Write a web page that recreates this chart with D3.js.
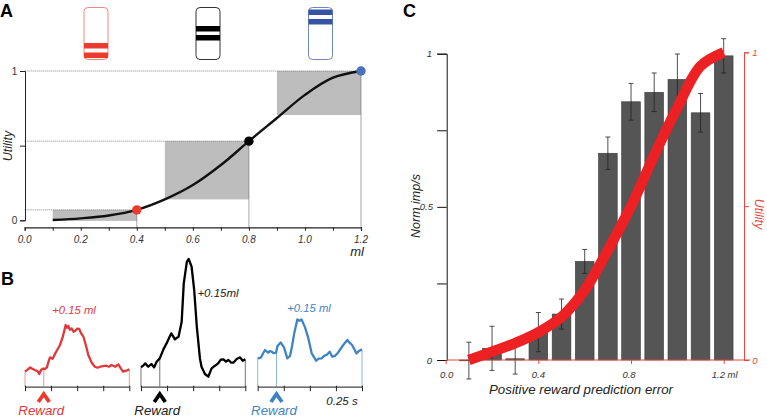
<!DOCTYPE html>
<html><head><meta charset="utf-8">
<script src="https://cdn.jsdelivr.net/npm/d3@7"></script>
<style>
html,body{margin:0;padding:0;background:#fff}
svg{display:block}
text{font-family:"Liberation Sans",Arial,sans-serif}
.it{font-style:italic}
</style></head><body>
<svg id="c" width="767" height="419"></svg>
<script>
// Panel A
const ml = [0.1,0.2,0.3,0.4,0.5,0.6,0.7,0.8,0.9,1.0,1.1,1.2];
const utilityA = [0.002,0.013,0.032,0.07,0.14,0.236,0.37,0.53,0.685,0.84,0.955,1];
const stimuli = [{m:0.4,u:0.07,c:"#ee3a2e"},{m:0.8,u:0.53,c:"#000000"},{m:1.2,u:1,c:"#4a72bd"}];
const shaded = [[0.1,0.4,-0.004,0.07],[0.5,0.8,0.14,0.53],[0.9,1.2,0.705,1]];
const xTicksA = [0,0.2,0.4,0.6,0.8,1.0,1.2];
// Panel B
const tRed = [0,.025,.05,.07,.095,.12,.137,.155,.176,.19,.21,.225,.24,.265,.29,.31,.335,.36,.39,.403,.415,.43,.447,.465,.48,.50,.52,.54,.56,.585,.607,.64,.67,.695,.72,.75,.78,.805,.83,.865,.895,.92,.94,.97,1];
const vRed = [15,17,19.3,18,16.7,15.5,12.7,17,18.3,17.5,19.3,25,29.3,28,33.3,37,41.7,49,61.7,59,60.7,57,58.3,55,55.7,58,57.7,53,50,41,31.7,24,20,19,20,20.5,21,20,21.7,20,22.3,18,15,16,17.3];
const tBlack = [0,.02,.04,.07,.10,.125,.15,.18,.215,.245,.27,.29,.31,.325,.345,.36,.39,.41,.44,.457,.485,.51,.535,.565,.58,.613,.645,.677,.71,.74,.765,.79,.815,.837,.865,.885,.92,.95,.975,1];
const vBlack = [19.3,21,23.3,20,22.7,19.3,25,28.3,37.3,43.3,49,53.3,50,47.3,49,50,65,103.3,125,127.7,120,96.7,60,28.3,20,12.7,10,18.3,21,23.3,27,27.3,25,26.7,24,24,28,29.3,26,27.3];
const tBlue = [0,.03,.05,.07,.10,.115,.134,.155,.176,.19,.22,.252,.284,.31,.33,.35,.38,.40,.42,.454,.486,.518,.56,.585,.613,.64,.66,.69,.715,.74,.77,.82,.86,.88,.905,.947,.975,1];
const vBlue = [28.3,29,33,36.7,34,35.5,35,33.5,34,40.7,44.3,39.3,28.3,30.7,41,53.3,67.3,66,67.3,59.3,48.3,33.3,26,28,28.3,31,31.7,35,30,30.7,34,41.7,46.7,44,41.7,33.3,36,37.3];
const rewardTime = 0.18;
// Panel C
const binsC = [0.1,0.2,0.3,0.4,0.5,0.6,0.7,0.8,0.9,1.0,1.1,1.2];
const normImp = [-0.002,0.038,0.004,0.091,0.15,0.322,0.675,0.843,0.874,0.916,0.807,0.993];
const errImp = [0.06,0.072,0.05,0.064,0.049,0.039,0.053,0.06,0.063,0.083,0.063,0.056];
const utilityC = [0,0.027,0.055,0.09,0.14,0.227,0.357,0.5,0.665,0.82,0.955,1];
const xTicksC = [0,0.4,0.8,1.2];

const svg = d3.select("#c");
const lab = (x,y,t,o={})=>svg.append("text").attr("x",x).attr("y",y).text(t)
  .attr("class",o.it===false?null:"it").attr("font-size",o.s||9.5).attr("fill",o.c||"#333")
  .attr("text-anchor",o.a||"middle").attr("font-weight",o.b?"bold":null)
  .attr("transform",o.r?`rotate(${o.r} ${x} ${y})`:null);

lab(0,17,"A",{it:false,s:18,b:true,c:"#000",a:"start"});
lab(1,285,"B",{it:false,s:18,b:true,c:"#000",a:"start"});
lab(403,17,"C",{it:false,s:18,b:true,c:"#000",a:"start"});

// Reward-cue icons
[[84,"#ee3a2e","#ea8a80",[43,52.5]],[196,"#000","#333",[26,35]],[308.5,"#3554a4","#6f86bd",[9.5,19]]].forEach(([x,c,e,b])=>{
  svg.append("rect").attr("x",x).attr("y",7.5).attr("width",24).attr("height",52).attr("rx",4)
    .attr("fill","#fff").attr("stroke",e).attr("stroke-width",1);
  b.forEach(y=>svg.append("rect").attr("x",x).attr("y",y).attr("width",24).attr("height",5.5).attr("fill",c));
});

// ---- Panel A
const xA = d3.scaleLinear().domain([0,1.2]).range([24.7,361]);
const yA = d3.scaleLinear().domain([0,1]).range([220.3,71]);
const gA = svg.append("g");
shaded.forEach(s=>gA.append("rect").attr("x",xA(s[0])).attr("width",xA(s[1])-xA(s[0]))
  .attr("y",yA(s[3])).attr("height",yA(s[2])-yA(s[3])).attr("fill","#bdbdbd"));
stimuli.forEach(s=>{
  gA.append("line").attr("x1",xA(0)).attr("x2",xA(s.m)).attr("y1",yA(s.u)).attr("y2",yA(s.u))
    .attr("stroke","#555").attr("stroke-width",.7).attr("stroke-dasharray","1 1");
  gA.append("line").attr("x1",xA(s.m)).attr("x2",xA(s.m)).attr("y1",yA(s.u)).attr("y2",227.3)
    .attr("stroke","#666").attr("stroke-width",.6);
});
gA.append("path").datum(ml.map((m,i)=>[m,utilityA[i]]))
  .attr("d",d3.line().x(d=>xA(d[0])).y(d=>yA(d[1])).curve(d3.curveCatmullRom))
  .attr("fill","none").attr("stroke","#111").attr("stroke-width",2.4);
stimuli.forEach(s=>gA.append("circle").attr("cx",xA(s.m)).attr("cy",yA(s.u)).attr("r",4.7).attr("fill",s.c));

const axA = svg.append("g").attr("transform","translate(0,227.3)")
  .call(d3.axisBottom(xA).tickValues(d3.range(0,13).map(d=>d/10)).tickSize(3.5).tickFormat(""));
axA.selectAll("path,line").attr("stroke","#222").attr("stroke-width",1);
axA.select(".domain").attr("stroke-width",1.2);
xTicksA.forEach(t=>lab(xA(t),243,t.toFixed(1),{s:10}));
const ayA = svg.append("g").attr("transform","translate(25,0)")
  .call(d3.axisLeft(yA).tickValues([0,0.5,1]).tickSize(5).tickFormat(""));
ayA.selectAll("path,line").attr("stroke","#222").attr("stroke-width",1);
lab(14.5,74.5,"1",{it:false,s:10}); lab(14.5,224,"0",{it:false,s:10});
lab(12,146,"Utility",{s:12.5,r:-90,c:"#222"});
lab(357,256,"ml",{s:13,c:"#222"});

// ---- Panel B
const yB = d3.scaleLinear().domain([0,100]).range([386.7,286.7]);
const traces = [
 {x0:25,t:tRed,v:vRed,c:"#e2383a",e:"#eb9a94"},
 {x0:141,t:tBlack,v:vBlack,c:"#000",e:"#777"},
 {x0:257.7,t:tBlue,v:vBlue,c:"#3e84c4",e:"#8cb6da"}];
traces.forEach(tr=>{
  const x = d3.scaleLinear().domain([0,1]).range([tr.x0,tr.x0+104.3]);
  [0,rewardTime,1].forEach(t=>{
    const v = d3.scaleLinear().domain(tr.t).range(tr.v)(t);
    svg.append("line").attr("x1",x(t)).attr("x2",x(t)).attr("y1",yB(0)).attr("y2",yB(v))
      .attr("stroke",tr.e).attr("stroke-width",1);
  });
  svg.append("path").datum(tr.t.map((t,i)=>[t,tr.v[i]]))
    .attr("d",d3.line().x(d=>x(d[0])).y(d=>yB(d[1])))
    .attr("fill","none").attr("stroke",tr.c).attr("stroke-width",2.3).attr("stroke-linejoin","round");
  const ax = svg.append("g").attr("transform",`translate(0,${yB(0)})`)
    .call(d3.axisBottom(x).tickValues([0,.25,.5,.75,1]).tickSize(0).tickFormat(""));
  ax.select(".domain").attr("stroke","#444").attr("stroke-width",1.2);
  ax.selectAll("line").attr("y1",-1).attr("y2",4.5).attr("stroke","#222");
  const cx = x(rewardTime);
  svg.append("path").attr("d",`M${cx-5.5},402 L${cx},394 L${cx+5.5},402`)
    .attr("fill","none").attr("stroke",tr.c==="#e2383a"?"#ee3a2e":tr.c).attr("stroke-width",3.8);
  lab(cx-2.5,414.5,"Reward",{s:13.3,c:tr.c==="#000"?"#222":tr.c});
});
lab(74,314,"+0.15 ml",{s:11.3,c:"#e2383a"});
lab(218,297,"+0.15ml",{s:11.5,c:"#222"});
lab(309,312,"+0.15 ml",{s:11.3,c:"#3e84c4"});
lab(342,405,"0.25 s",{s:11.5,c:"#222"});

// ---- Panel C
const xC = d3.scaleLinear().domain([0,1.2]).range([445.7,723.7]);
const yC = d3.scaleLinear().domain([0,1]).range([360,53.7]);
const yU = d3.scaleLinear().domain([0,1]).range([360,52.3]);
const bw = 18.7;
binsC.forEach((b,i)=>{
  const v = normImp[i];
  svg.append("rect").attr("x",xC(b)-bw/2).attr("width",bw)
    .attr("y",yC(Math.max(v,0))).attr("height",Math.max(Math.abs(yC(v)-yC(0)),0.8))
    .attr("fill","#555").attr("stroke","#3a3a3a").attr("stroke-width",.6);
  const cx = xC(b), hi = yC(v+errImp[i]), lo = yC(v-errImp[i]);
  svg.append("path").attr("d",`M${cx},${hi}V${lo}M${cx-2.5},${hi}h5M${cx-2.5},${lo}h5`)
    .attr("stroke","#222").attr("stroke-width",.8).attr("fill","none");
});
const axL = svg.append("g").attr("transform","translate(446.7,0)")
  .call(d3.axisLeft(yC).tickValues([0,.25,.5,.75,1]).tickSize(9.5).tickFormat(""));
axL.selectAll("path,line").attr("stroke","#111").attr("stroke-width",1);
lab(432,57,"1",{a:"end"}); lab(433,210,"0.5",{a:"end"}); lab(432,363.5,"0",{a:"end"});
lab(419.5,206,"Norm imp/s",{s:12.5,r:-90,c:"#222"});

const red = "#e9463f";
const axX = svg.append("g").attr("transform","translate(0,360)")
  .call(d3.axisBottom(xC).tickValues(xTicksC).tickSize(4).tickFormat(""));
axX.select(".domain").attr("d","M447,0H750").attr("stroke",red).attr("stroke-width",1);
axX.selectAll("line").attr("stroke",red).attr("stroke-width",1);
xTicksC.forEach(t=>{
  if(t===1.2) lab(xC(t)+1,378,"1.2 ml",{c:"#333"});
  else lab(xC(t)+(t===0?1:t===0.8?-2:0),378,t.toFixed(1),{c:"#333"});
});
lab(581,394,"Positive reward prediction error",{s:13.3,c:"#222"});
const axR = svg.append("g").attr("transform","translate(744,0)")
  .call(d3.axisRight(yU).tickValues([0,.5,1]).tickSize(5).tickFormat(""));
axR.selectAll("path,line").attr("stroke",red).attr("stroke-width",1);
lab(755,56,"1",{c:red}); lab(755,363.5,"0",{c:red});
lab(755,214,"Utility",{s:12.5,r:90,c:red});
svg.append("path").datum(ml.map((m,i)=>[m,utilityC[i]]))
  .attr("d",d3.line().x(d=>xC(d[0])).y(d=>yU(d[1])).curve(d3.curveCatmullRom))
  .attr("fill","none").attr("stroke","#ed2024").attr("stroke-width",10.5);
</script>
</body></html>
